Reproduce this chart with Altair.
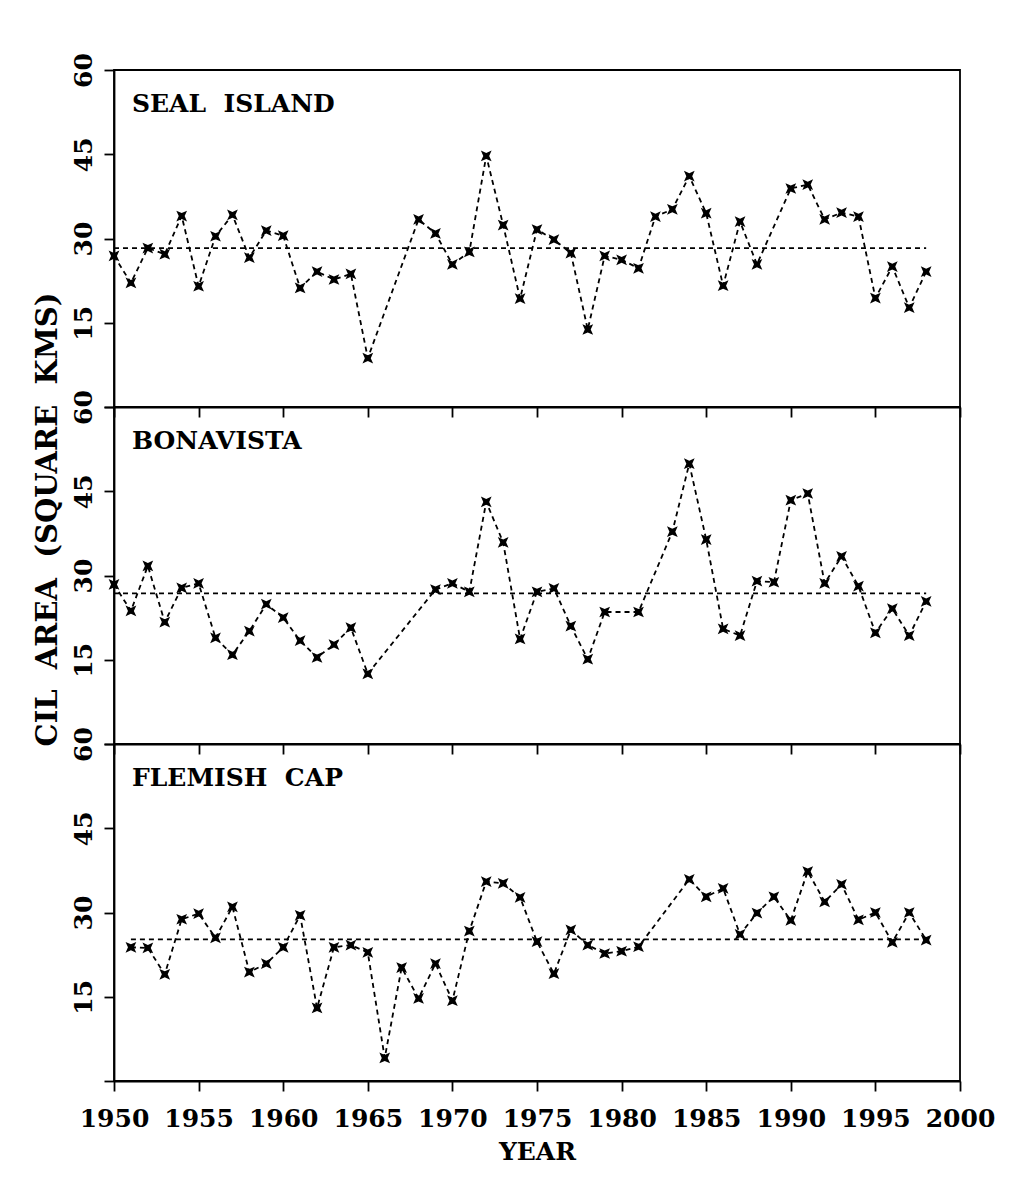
import altair as alt
import pandas as pd

# ---------------- data ----------------
SEAL_YEARS = [1950, 1951, 1952, 1953, 1954, 1955, 1956, 1957, 1958, 1959, 1960,
              1961, 1962, 1963, 1964, 1965, 1968, 1969, 1970, 1971, 1972, 1973,
              1974, 1975, 1976, 1977, 1978, 1979, 1980, 1981, 1982, 1983, 1984,
              1985, 1986, 1987, 1988, 1990, 1991, 1992, 1993, 1994, 1995, 1996,
              1997, 1998]
SEAL_AREA = [26.9, 22.1, 28.3, 27.2, 34.0, 21.5, 30.4, 34.2, 26.6, 31.4, 30.5,
             21.2, 24.1, 22.7, 23.7, 8.7, 33.4, 30.9, 25.4, 27.6, 44.7, 32.4,
             19.3, 31.6, 29.8, 27.4, 13.8, 26.9, 26.2, 24.7, 33.9, 35.2, 41.1,
             34.5, 21.6, 33.0, 25.4, 38.9, 39.6, 33.4, 34.6, 33.9, 19.4, 25.0,
             17.7, 24.1]

BONA_YEARS = [1950, 1951, 1952, 1953, 1954, 1955, 1956, 1957, 1958, 1959, 1960,
              1961, 1962, 1963, 1964, 1965, 1969, 1970, 1971, 1972, 1973, 1974,
              1975, 1976, 1977, 1978, 1979, 1981, 1983, 1984, 1985, 1986, 1987,
              1988, 1989, 1990, 1991, 1992, 1993, 1994, 1995, 1996, 1997, 1998]
BONA_AREA = [28.4, 23.7, 31.7, 21.7, 27.8, 28.6, 18.9, 15.9, 20.1, 24.9, 22.5,
             18.4, 15.4, 17.7, 20.7, 12.5, 27.5, 28.6, 27.1, 43.1, 35.9, 18.7,
             27.1, 27.7, 21.0, 15.1, 23.5, 23.5, 37.8, 49.9, 36.4, 20.5, 19.3,
             29.0, 28.8, 43.4, 44.6, 28.6, 33.4, 28.1, 19.8, 24.1, 19.3, 25.4]

FLEM_YEARS = [1951, 1952, 1953, 1954, 1955, 1956, 1957, 1958, 1959, 1960, 1961,
              1962, 1963, 1964, 1965, 1966, 1967, 1968, 1969, 1970, 1971, 1972,
              1973, 1974, 1975, 1976, 1977, 1978, 1979, 1980, 1981, 1984, 1985,
              1986, 1987, 1988, 1989, 1990, 1991, 1992, 1993, 1994, 1995, 1996,
              1997, 1998]
FLEM_AREA = [23.8, 23.7, 19.0, 28.8, 29.8, 25.5, 31.0, 19.4, 20.9, 23.8, 29.5,
             13.0, 23.8, 24.2, 22.9, 4.1, 20.2, 14.7, 20.9, 14.3, 26.7, 35.5,
             35.2, 32.7, 24.8, 19.1, 26.9, 24.2, 22.7, 23.1, 23.9, 35.9, 32.8,
             34.3, 26.1, 29.9, 32.8, 28.6, 37.3, 31.9, 35.0, 28.7, 30.0, 24.7,
             30.0, 25.1]

PANEL_NAMES = ["SEAL\u00a0 ISLAND", "BONAVISTA", "FLEMISH\u00a0 CAP"]
MEAN_AREA = [28.3, 26.8, 25.2]
MEAN_START = [1950, 1950, 1951]
MEAN_END = [1998, 1998, 1998]

X_TICKS = [1950, 1955, 1960, 1965, 1970, 1975, 1980, 1985, 1990, 1995, 2000]
Y_TICKS = [0, 15, 30, 45, 60]
Y_TITLE = "CIL\u00a0 AREA\u00a0 (SQUARE\u00a0 KMS)"
X_TITLE = "YEAR"

# ---------------- styling ----------------
FONT = "DejaVu Serif"
W, H = 846, 337
STAR = "M-1,-1L0,-0.55L1,-1L0.55,0L1,1L0,0.55L-1,1L-0.55,0Z"
DASH = [5, 4]


def panel(idx, years, values, bottom, with_ytitle):
    df = pd.DataFrame({"year": years, "area": values})
    mean_df = pd.DataFrame({"start": [MEAN_START[idx]], "end": [MEAN_END[idx]],
                            "mean": [MEAN_AREA[idx]]})
    lab_df = pd.DataFrame({"label": [PANEL_NAMES[idx]]})

    x_axis = alt.Axis(values=X_TICKS, format="d", tickSize=10, labels=bottom,
                      title=X_TITLE if bottom else "", labelFlush=False,
                      labelOverlap=False, labelPadding=15, titlePadding=8)
    if with_ytitle:
        y_axis = alt.Axis(values=Y_TICKS, tickSize=10, labelAngle=270,
                          labelAlign="center", labelBaseline="bottom",
                          labelPadding=8,
                          labelExpr="datum.value == 0 ? '' : datum.label",
                          title=Y_TITLE, titleAngle=270, titleAlign="center",
                          titleBaseline="bottom", titleX=-52, titleY=112,
                          titleFontSize=29)
    else:
        y_axis = alt.Axis(values=Y_TICKS, tickSize=10, labelAngle=270,
                          labelAlign="center", labelBaseline="bottom",
                          labelPadding=8,
                          labelExpr="datum.value == 0 ? '' : datum.label",
                          title="")

    xs = alt.Scale(domain=[1950, 2000], nice=False, zero=False)
    ys = alt.Scale(domain=[0, 60], nice=False)

    base = alt.Chart(df).encode(
        x=alt.X("year:Q", scale=xs, axis=x_axis),
        y=alt.Y("area:Q", scale=ys, axis=y_axis),
    )
    line = base.mark_line(color="black", strokeWidth=1.8, strokeDash=DASH)
    pts = base.mark_point(shape=STAR, filled=True, size=115, color="black",
                          opacity=1)
    mean = alt.Chart(mean_df).mark_rule(
        color="black", strokeWidth=1.8, strokeDash=DASH
    ).encode(
        x=alt.X("start:Q", scale=xs),
        x2="end:Q",
        y=alt.Y("mean:Q", scale=ys),
    )
    label = alt.Chart(lab_df).mark_text(
        align="left", baseline="alphabetic", font=FONT, fontSize=25,
        fontWeight="bold", color="black"
    ).encode(x=alt.value(18), y=alt.value(42), text="label:N")

    return alt.layer(mean, line, pts, label).properties(width=W, height=H)


chart = alt.vconcat(
    panel(0, SEAL_YEARS, SEAL_AREA, False, False),
    panel(1, BONA_YEARS, BONA_AREA, False, True),
    panel(2, FLEM_YEARS, FLEM_AREA, True, False),
    spacing=0,
    bounds="flush",
).properties(
    padding={"left": 24, "top": 43, "right": 5, "bottom": 5},
    background="white",
).configure_view(
    stroke="black", strokeWidth=1.8
).configure_axis(
    grid=False, domainColor="black", domainWidth=1.8, tickColor="black",
    tickWidth=1.8, labelColor="black", titleColor="black",
    labelFont=FONT, titleFont=FONT, labelFontSize=25, titleFontSize=25,
    labelFontWeight="bold", titleFontWeight="bold"
)

chart.save("out.html", embed_options={"renderer": "svg", "actions": False})
